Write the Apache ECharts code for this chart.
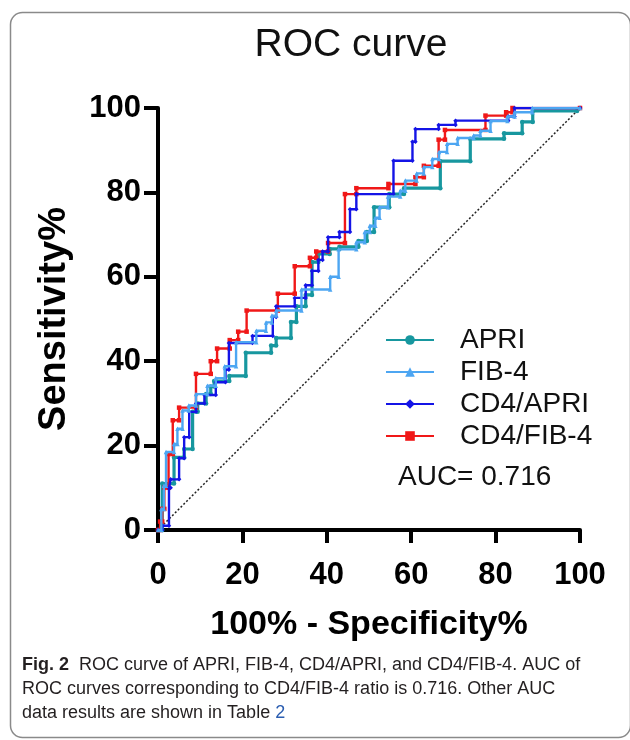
<!DOCTYPE html>
<html>
<head>
<meta charset="utf-8">
<script src="https://cdn.jsdelivr.net/npm/echarts@6/dist/echarts.min.js"></script>
<style>
html,body{margin:0;padding:0;background:#fff;}
#chart{width:630px;height:740px;}
</style>
</head>
<body>
<div id="chart"></div>
<script>
// ROC step curves: [100% - Specificity%, Sensitivity%]
const apri = [[0,0],[1,0],[1,11],[3.8,11],[3.8,17.2],[6.2,17.2],[6.2,19.2],[8.2,19.2],[8.2,28],[9.4,28],[9.4,30],[11.4,30],[11.4,32.2],[12.5,32.2],[12.5,34],[13.3,34],[13.3,35.3],[16.9,35.3],[16.9,36.5],[20.8,36.5],[20.8,42],[26.8,42],[26.8,43.7],[28,43.7],[28,45.5],[31.5,45.5],[31.5,49.3],[32.8,49.3],[32.8,53],[35,53],[35,55.7],[36.5,55.7],[36.5,63.5],[38,63.5],[38,65.4],[40.7,65.4],[40.7,66.6],[43,66.6],[43,67.1],[47.5,67.1],[47.5,68.5],[49.5,68.5],[49.5,70.6],[51.2,70.6],[51.2,76.5],[54.8,76.5],[54.8,79.6],[58.3,79.6],[58.3,81],[66.9,81],[66.9,87.4],[74,87.4],[74,92.7],[82,92.7],[82,94],[86.3,94],[86.3,96.7],[88.8,96.7],[88.8,99.3],[99.3,99.3],[100,100]];
const fib4 = [[0,0],[0.8,0],[0.8,5],[1.4,5],[1.4,10.5],[1.9,10.5],[1.9,18.5],[3.8,18.5],[3.8,20.4],[4.6,20.4],[4.6,24],[5.8,24],[5.8,28.3],[7.3,28.3],[7.3,29.5],[9,29.5],[9,32.2],[11.7,32.2],[11.7,34.2],[13.7,34.2],[13.7,36],[15.8,36],[15.8,38.8],[18.5,38.8],[18.5,44.5],[23.3,44.5],[23.3,47.2],[25.6,47.2],[25.6,49.2],[27,49.2],[27,50.8],[28,50.8],[28,52],[34,52],[34,57],[40.8,57],[40.8,60],[42.8,60],[42.8,66.5],[47,66.5],[47,68.2],[49,68.2],[49,70.6],[50.2,70.6],[50.2,72.1],[51.5,72.1],[51.5,74],[52.5,74],[52.5,76.5],[54.5,76.5],[54.5,79],[57.4,79],[57.4,80.4],[58.6,80.4],[58.6,82.8],[61.3,82.8],[61.3,84.5],[63,84.5],[63,86],[65,86],[65,87.9],[66.6,87.9],[66.6,89.6],[68.5,89.6],[68.5,91.5],[71,91.5],[71,92.9],[74.8,92.9],[74.8,93.5],[76.4,93.5],[76.4,94.6],[78.8,94.6],[78.8,96.9],[82.8,96.9],[82.8,98],[84.5,98],[84.5,99],[88.7,99],[88.7,100],[100,100]];
const cd4Apri = [[0,0],[1,0],[1,1],[2.6,1],[2.6,10],[3,10],[3,12],[5,12],[5,17],[6.2,17],[6.2,22],[7.4,22],[7.4,28],[9,28],[9,30],[11,30],[11,32],[13.7,32],[13.7,35],[16,35],[16,38],[16.8,38],[16.8,44.3],[22.4,44.3],[22.4,46],[27.2,46],[27.2,50.5],[28,50.5],[28,53],[32.4,53],[32.4,55],[35,55],[35,58],[36.5,58],[36.5,61.4],[38,61.4],[38,64],[39,64],[39,66],[40.3,66],[40.3,69.4],[43,69.4],[43,70.6],[45.5,70.6],[45.5,76],[47,76],[47,79.6],[55.8,79.6],[55.8,87.5],[60.3,87.5],[60.3,92],[61,92],[61,95],[66.5,95],[66.5,96],[70.5,96],[70.5,97],[83,97],[83,98],[84.5,98],[84.5,100],[100,100]];
const cd4Fib4 = [[0,0],[0.5,0],[0.5,2],[1,2],[1,5],[1.5,5],[1.5,10],[2.5,10],[2.5,18],[3.5,18],[3.5,26],[5,26],[5,29],[9,29],[9,37],[12.5,37],[12.5,40],[14,40],[14,43],[17,43],[17,45],[19,45],[19,47],[21,47],[21,52],[28.4,52],[28.4,56],[32.4,56],[32.4,62.5],[36,62.5],[36,64.5],[37.5,64.5],[37.5,66],[40.3,66],[40.3,68],[44.3,68],[44.3,79.6],[47,79.6],[47,81],[54.6,81],[54.6,82],[61,82],[61,83.6],[63,83.6],[63,86.3],[66.5,86.3],[66.5,92.5],[68,92.5],[68,94.8],[77.6,94.8],[77.6,98.2],[82.5,98.2],[82.5,99],[84,99],[84,100],[100,100]];
const chance = [[0,0],[100,100]];
const seriesNames = ['APRI','FIB-4','CD4/APRI','CD4/FIB-4'];
const ticks = [0,20,40,60,80,100];
const aucText = 'AUC= 0.716';

const colors = {APRI:'#17979f','FIB-4':'#4da6f2','CD4/APRI':'#1414e6','CD4/FIB-4':'#f01818'};

const chart = echarts.init(document.getElementById('chart'), null, {renderer:'canvas'});
function roc(name, data, symbol, width, z){
  return {name:name, type:'line', data:data, symbol:symbol, symbolSize:4.5, showSymbol:true,
    lineStyle:{color:colors[name], width:width}, itemStyle:{color:colors[name]},
    z:z, animation:false, silent:true};
}
chart.setOption({
  animation:false,
  title:{text:'ROC curve', left:346, textAlign:'center', top:21, textStyle:{fontFamily:'Liberation Sans', fontSize:39, fontWeight:'normal', color:'#111'}},
  grid:{left:158, right:50, top:108, bottom:210},
  xAxis:{type:'value', min:0, max:100, interval:20,
    name:'100% - Specificity%', nameLocation:'middle', nameGap:78,
    nameTextStyle:{fontFamily:'Liberation Sans', fontSize:34, fontWeight:'bold', color:'#000'},
    axisLine:{show:true, lineStyle:{color:'#000', width:4}},
    axisTick:{show:true, length:13, lineStyle:{color:'#000', width:4}},
    axisLabel:{margin:30, fontFamily:'Liberation Sans', fontSize:31, fontWeight:'bold', color:'#000',
      formatter:v=>ticks.includes(v)?String(v):''},
    splitLine:{show:false}},
  yAxis:{type:'value', min:0, max:100, interval:20,
    name:'Sensitivity%', nameLocation:'middle', nameGap:84, nameRotate:90,
    nameTextStyle:{fontFamily:'Liberation Sans', fontSize:38, fontWeight:'bold', color:'#000'},
    axisLine:{show:true, lineStyle:{color:'#000', width:4}},
    axisTick:{show:true, length:14, lineStyle:{color:'#000', width:4}},
    axisLabel:{margin:17, fontFamily:'Liberation Sans', fontSize:31, fontWeight:'bold', color:'#000',
      formatter:v=>ticks.includes(v)?String(v):''},
    splitLine:{show:false}},
  legend:{data:seriesNames, orient:'vertical', left:380, top:321, itemWidth:48, itemHeight:12, itemGap:4,
    selectedMode:false,
    textStyle:{fontFamily:'Liberation Sans', fontSize:28, color:'#111', padding:[0,0,0,21]}},
  series:[
    {name:'chance', type:'line', data:chance, symbol:'none', lineStyle:{color:'#222', width:1.5, type:[2,2]}, z:1, silent:true},
    roc('APRI', apri, 'circle', 3.2, 2),
    roc('CD4/FIB-4', cd4Fib4, 'rect', 2.4, 3),
    roc('CD4/APRI', cd4Apri, 'diamond', 2.4, 4),
    roc('FIB-4', fib4, 'triangle', 2.4, 5)
  ],
  graphic:[
    {type:'rect', left:8, top:10, shape:{width:620, height:725, r:12}, style:{fill:'none', stroke:'#8a8a8a', lineWidth:1.5}, silent:true, z:-1},
    {type:'text', left:398, top:463, style:{text:aucText, font:'28px "Liberation Sans"', fill:'#111'}},
    {type:'text', left:22, top:653, style:{
      text:'{b|Fig. 2}  ROC curve of APRI, FIB-4, CD4/APRI, and CD4/FIB-4. AUC of\nROC curves corresponding to CD4/FIB-4 ratio is 0.716. Other AUC\ndata results are shown in Table {l|2}',
      font:'18px "Liberation Sans"', fill:'#231f20', lineHeight:24,
      rich:{b:{fontWeight:'bold', fontSize:18, fontFamily:'Liberation Sans', fill:'#231f20'}, l:{fill:'#2a5db0', fontSize:18, fontFamily:'Liberation Sans'}}}}
  ]
});
</script>
</body>
</html>
